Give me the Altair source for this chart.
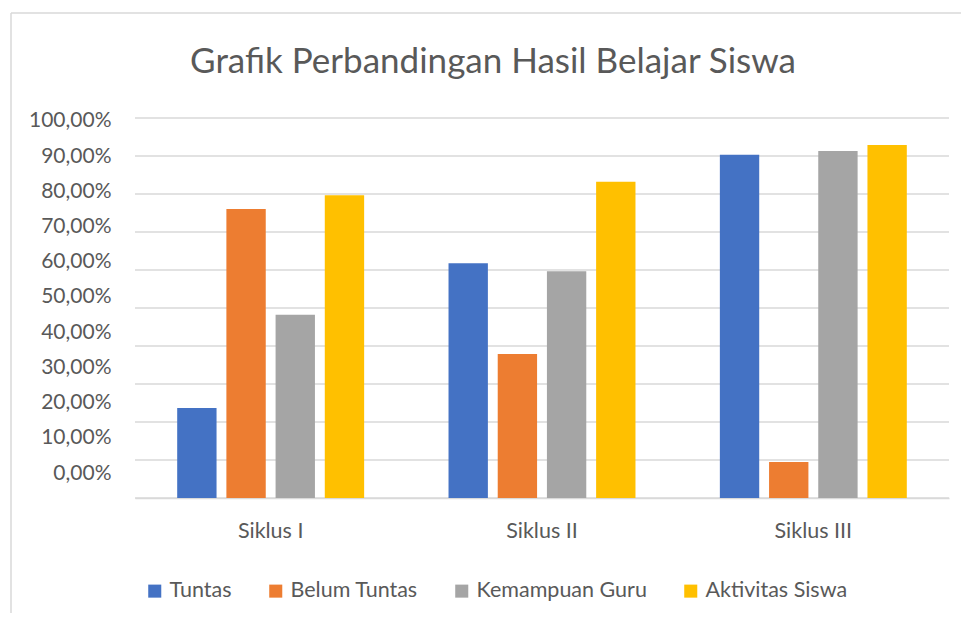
import altair as alt
import pandas as pd

cycles = ["Siklus I", "Siklus II", "Siklus III"]
series = ["Tuntas", "Belum Tuntas", "Kemampuan Guru", "Aktivitas Siswa"]
tuntas = [0.237, 0.618, 0.903]
belum_tuntas = [0.7605, 0.379, 0.095]
kemampuan_guru = [0.482, 0.597, 0.913]
aktivitas_siswa = [0.797, 0.832, 0.929]
colors = ["#4472C4", "#ED7D31", "#A5A5A5", "#FFC000"]
y_ticks = [0.0, 0.1, 0.2, 0.3, 0.4, 0.5, 0.6, 0.7, 0.8, 0.9, 1.0]

FONT = "Lato"
TEXT = "#595959"
GRID = "#d9d9d9"

rows = []
for name, vals in zip(series, [tuntas, belum_tuntas, kemampuan_guru, aktivitas_siswa]):
    for c, v in zip(cycles, vals):
        rows.append({"Siklus": c, "Seri": name, "Nilai": v})
df = pd.DataFrame(rows)
ticks_df = pd.DataFrame({"v": y_ticks})
one = pd.DataFrame({"k": [0]})

grid = alt.Chart(ticks_df).mark_rule(color=GRID, strokeWidth=1.3).encode(
    y=alt.Y("v:Q", scale=alt.Scale(domain=[0, 1], nice=False, zero=False), axis=None)
)

bars = alt.Chart(df).mark_bar().encode(
    x=alt.X(
        "Siklus:N",
        sort=cycles,
        scale=alt.Scale(paddingInner=0.311, paddingOuter=0.1555),
        axis=alt.Axis(
            title=None, labelAngle=0, ticks=False, tickSize=0, domainColor=GRID,
            domainWidth=1.3, labelFont=FONT, labelFontSize=21.5, labelColor=TEXT,
            labelPadding=22,
        ),
    ),
    xOffset=alt.XOffset("Seri:N", sort=series, scale=alt.Scale(paddingInner=0.2, paddingOuter=0)),
    y=alt.Y("Nilai:Q", scale=alt.Scale(domain=[0, 1], nice=False, zero=False), axis=None),
    color=alt.Color(
        "Seri:N",
        sort=series,
        scale=alt.Scale(domain=series, range=colors),
        legend=alt.Legend(
            title=None, orient="none", legendX=9, legendY=462, direction="horizontal",
            columns=4, symbolType="square", symbolSize=170, symbolStrokeWidth=0,
            labelFont=FONT, labelFontSize=21.5, labelColor=TEXT, columnPadding=33,
            labelOffset=4, labelLimit=400,
        ),
    ),
)

labels = alt.Chart(ticks_df).mark_rule(opacity=0).encode(
    y=alt.Y(
        "v:Q",
        scale=alt.Scale(domain=[-0.071, 1.0085], nice=False, zero=False),
        axis=alt.Axis(
            orient="left", values=y_ticks, title=None, ticks=False, tickSize=0,
            domain=False, grid=False, labelPadding=24, labelFont=FONT,
            labelFontSize=21, labelColor=TEXT,
            labelExpr="replace(format(datum.value, '.2%'), '.', ',')",
        ),
    )
)

frame_top = alt.Chart(one).mark_rule(color=GRID, strokeWidth=1.5).encode(
    x=alt.value(-124), x2=alt.value(826), y=alt.value(-105)
)
frame_left = alt.Chart(one).mark_rule(color=GRID, strokeWidth=1.5).encode(
    x=alt.value(-124), y=alt.value(-105), y2=alt.value(495)
)

chart = (
    alt.layer(frame_top, frame_left, grid, bars, labels)
    .resolve_scale(y="independent")
    .properties(
        width=814,
        height=380,
        padding={"left": 2, "top": 4, "right": 0, "bottom": 0},
        title=alt.TitleParams(
            "Grafik Perbandingan Hasil Belajar Siswa", font=FONT, fontSize=35,
            fontWeight="normal", color=TEXT, anchor="middle", frame="group",
            dx=-49, offset=-68,
        ),
    )
    .configure_view(stroke=None)
)

chart.save("out.html", embed_options={"renderer": "svg", "actions": False})
